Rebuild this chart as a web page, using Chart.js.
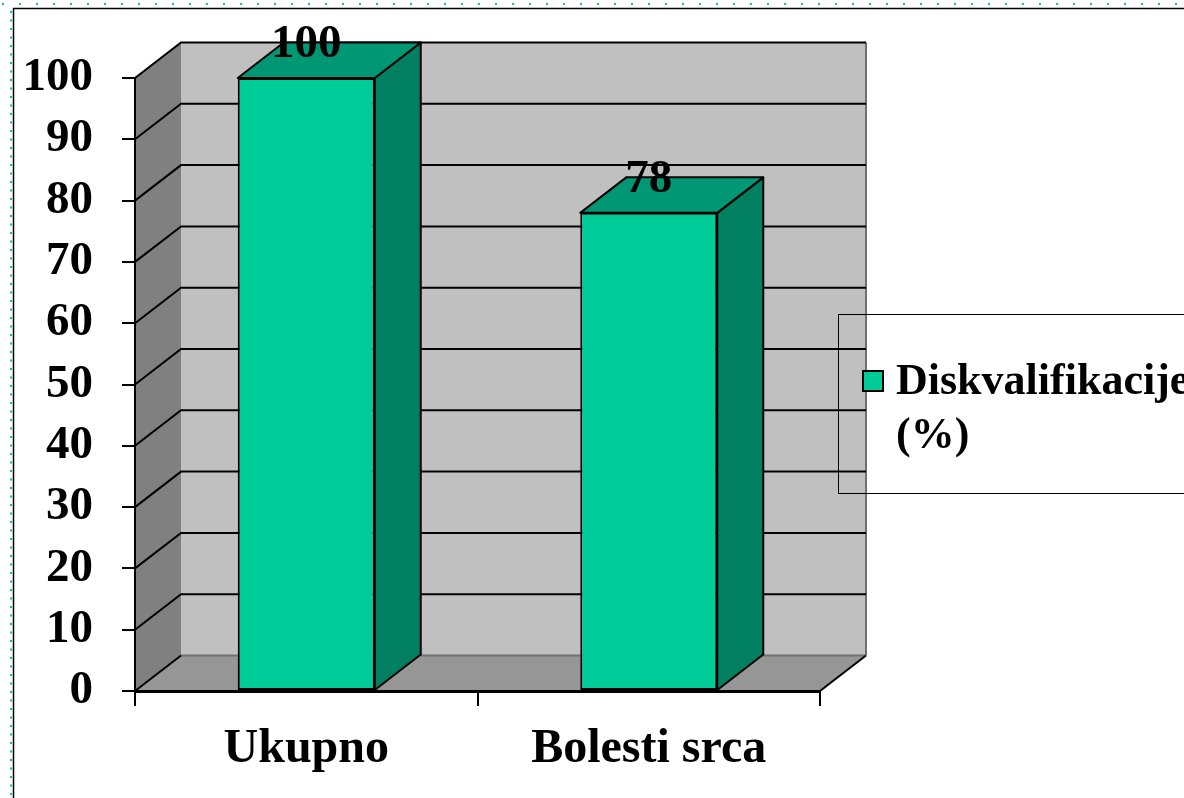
<!DOCTYPE html>
<html>
  <head>
    <script src="https://cdn.jsdelivr.net/npm/chart.js"></script>
    <meta charset="utf-8">
    <style>
      body { margin: 0; background: #fff; }
      canvas { display: block; }
    </style>
  </head>
  <body>
    <canvas id="grafik" width="1184" height="798"></canvas>
    <script>
      // podaci
      const kategorije = ['Ukupno', 'Bolesti srca'];
      const vrijednosti = [100, 78];
      const legendaRedovi = ['Diskvalifikacije', '(%)'];
      const yMin = 0;
      const yMax = 100;
      const yKorak = 10;

      // 3D pomak (dubina)
      const dx = 46;
      const dy = -35.5;

      const boje = {
        prednja: '#00CC99',
        bocna: '#008060',
        gornja: '#009874',
        zid: '#C0C0C0',
        bocniZid: '#808080',
        pod: '#969696'
      };

      const font = 'Liberation Serif, Times New Roman, serif';

      // zidovi, pod i linije mreze iza stupaca
      const zidovi = {
        id: 'zidovi',
        beforeDraw(chart) {
          const ctx = chart.ctx;
          const a = chart.chartArea;
          const y = chart.scales.y;
          const L = a.left, R = a.right;
          const T = y.getPixelForValue(yMax), B = y.getPixelForValue(yMin);
          ctx.save();

          // okvir stranice
          ctx.fillStyle = '#00CC99';
          for (let px = 3; px < 1184; px += 17) ctx.fillRect(px - 1, 3, 2, 2);
          for (let py = 12; py < 798; py += 8.5) ctx.fillRect(10, py - 1, 2, 2);
          ctx.strokeStyle = '#000';
          ctx.lineWidth = 1.5;
          ctx.beginPath();
          ctx.moveTo(13.5, 798); ctx.lineTo(13.5, 8.5); ctx.lineTo(1184, 8.5);
          ctx.stroke();

          // straznji zid
          ctx.fillStyle = boje.zid;
          ctx.fillRect(L + dx, T + dy, R - L, B - T);
          // bocni zid
          ctx.fillStyle = boje.bocniZid;
          ctx.beginPath();
          ctx.moveTo(L, T); ctx.lineTo(L + dx, T + dy); ctx.lineTo(L + dx, B + dy); ctx.lineTo(L, B);
          ctx.closePath(); ctx.fill();
          // pod
          ctx.fillStyle = boje.pod;
          ctx.beginPath();
          ctx.moveTo(L, B); ctx.lineTo(L + dx, B + dy); ctx.lineTo(R + dx, B + dy); ctx.lineTo(R, B);
          ctx.closePath(); ctx.fill();

          // desni rub zida
          ctx.strokeStyle = '#707070';
          ctx.lineWidth = 2;
          ctx.beginPath();
          ctx.moveTo(R + dx, T + dy); ctx.lineTo(R + dx, B + dy);
          ctx.stroke();
          // straznji rub poda
          ctx.beginPath();
          ctx.moveTo(L + dx, B + dy); ctx.lineTo(R + dx, B + dy);
          ctx.stroke();

          // linije mreze
          ctx.strokeStyle = '#000';
          y.ticks.forEach(t => {
            const yy = y.getPixelForValue(t.value);
            ctx.lineWidth = 2;
            ctx.beginPath();
            ctx.moveTo(L, yy); ctx.lineTo(L + dx, yy + dy);
            if (t.value !== yMin) ctx.lineTo(R + dx, yy + dy);
            ctx.stroke();
          });
          // desni rub poda
          ctx.lineWidth = 2;
          ctx.beginPath();
          ctx.moveTo(R, B); ctx.lineTo(R + dx, B + dy);
          ctx.stroke();
          ctx.restore();
        }
      };

      // bocne i gornje strane stupaca, oznake i legenda
      const stupci3d = {
        id: 'stupci3d',
        afterDatasetsDraw(chart) {
          const ctx = chart.ctx;
          const meta = chart.getDatasetMeta(0);
          ctx.save();
          ctx.strokeStyle = '#000';
          ctx.lineWidth = 2;
          ctx.lineJoin = 'round';
          meta.data.forEach((bar, i) => {
            const l = bar.x - bar.width / 2, r = bar.x + bar.width / 2;
            const t = bar.y, b = bar.base;
            ctx.fillStyle = boje.bocna;
            ctx.beginPath();
            ctx.moveTo(r, t); ctx.lineTo(r + dx, t + dy); ctx.lineTo(r + dx, b + dy); ctx.lineTo(r, b);
            ctx.closePath(); ctx.fill(); ctx.stroke();
            ctx.fillStyle = boje.gornja;
            ctx.beginPath();
            ctx.moveTo(l, t); ctx.lineTo(l + dx, t + dy); ctx.lineTo(r + dx, t + dy); ctx.lineTo(r, t);
            ctx.closePath(); ctx.fill(); ctx.stroke();
          });
          ctx.fillStyle = '#000';
          ctx.font = 'bold 47px ' + font;
          ctx.textAlign = 'center';
          ctx.textBaseline = 'alphabetic';
          meta.data.forEach((bar, i) => {
            ctx.fillText(String(vrijednosti[i]), bar.x, bar.y - 21);
          });
          ctx.restore();
        },
        afterDraw(chart) {
          const ctx = chart.ctx;
          const ds = chart.data.datasets[0];
          ctx.save();
          // okvir legende
          ctx.strokeStyle = '#000';
          ctx.lineWidth = 1;
          ctx.strokeRect(838.5, 314.5, 420, 179);
          // oznaka
          ctx.fillStyle = ds.backgroundColor;
          ctx.fillRect(862, 370, 22, 22);
          ctx.lineWidth = 2;
          ctx.strokeRect(863, 371, 20, 20);
          // tekst
          ctx.fillStyle = '#000';
          ctx.font = 'bold 44px ' + font;
          ctx.textAlign = 'left';
          ctx.textBaseline = 'alphabetic';
          legendaRedovi.forEach((red, i) => ctx.fillText(red, 896, 394 + i * 54));
          ctx.restore();
        }
      };

      new Chart(document.getElementById('grafik'), {
        type: 'bar',
        data: {
          labels: kategorije,
          datasets: [{
            label: legendaRedovi.join(' '),
            data: vrijednosti,
            backgroundColor: boje.prednja,
            borderColor: '#000',
            borderWidth: 2,
            borderSkipped: false,
            categoryPercentage: 1,
            barPercentage: 0.4
          }]
        },
        options: {
          responsive: false,
          animation: false,
          layout: { padding: { top: 78, right: 364, left: 0, bottom: 0 } },
          plugins: {
            legend: { display: false },
            tooltip: { enabled: false }
          },
          scales: {
            x: {
              afterFit(s) { s.height = 107; },
              grid: {
                offset: true,
                drawOnChartArea: false,
                drawTicks: true,
                tickLength: 15,
                color: '#000',
                lineWidth: 2
              },
              border: { display: true, color: '#000', width: 3 },
              ticks: {
                color: '#000',
                padding: 15,
                font: { family: font, size: 48, weight: 'bold' }
              }
            },
            y: {
              min: yMin,
              max: yMax,
              afterFit(s) { s.width = 135; },
              grid: {
                drawOnChartArea: false,
                drawTicks: true,
                tickLength: 13,
                color: '#000',
                lineWidth: 2
              },
              border: { display: true, color: '#000', width: 2 },
              ticks: {
                stepSize: yKorak,
                color: '#000',
                padding: 29,
                font: { family: font, size: 47, weight: 'bold' }
              }
            }
          }
        },
        plugins: [zidovi, stupci3d]
      });
    </script>
  </body>
</html>
